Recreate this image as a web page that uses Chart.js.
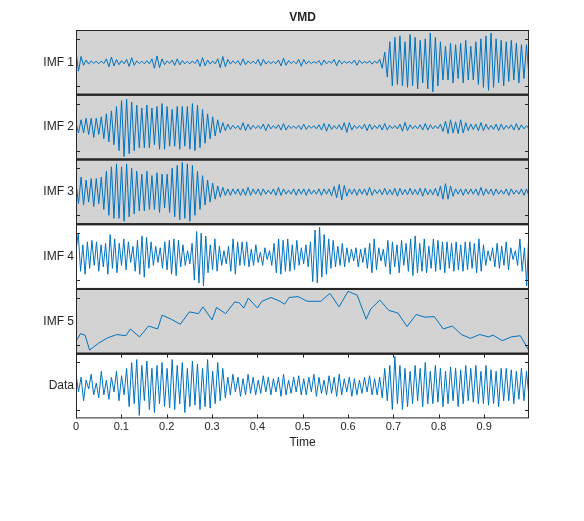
<!DOCTYPE html>
<html><head><meta charset="utf-8">
<script src="https://cdn.jsdelivr.net/npm/chart.js@4"></script>
<style>html,body{margin:0;padding:0;background:#fff}#w{width:584px;height:521px}</style>
</head><body><div id="w"><canvas id="c"></canvas></div>
<script>
const panelLabels = ["IMF 1","IMF 2","IMF 3","IMF 4","IMF 5","Data"];
const xTicks = [0,0.1,0.2,0.3,0.4,0.5,0.6,0.7,0.8,0.9];
const imf1 = [
0.35,-0.3,0.2,-0.1,0.08,-0.06,0.05,-0.04,0.04,-0.05,
0.05,-0.04,0.12,-0.15,0.18,-0.12,0.1,-0.08,0.06,-0.05,
0.1,-0.14,0.16,-0.1,0.05,-0.04,0.04,-0.05,0.06,-0.05,
0.12,-0.2,0.22,-0.18,0.12,-0.08,0.05,-0.04,0.08,-0.1,
0.12,-0.09,0.06,-0.05,0.04,-0.05,0.05,-0.04,0.1,-0.14,
0.16,-0.12,0.08,-0.06,0.05,-0.05,0.12,-0.18,0.2,-0.15,
0.1,-0.06,0.05,-0.04,0.06,-0.1,0.12,-0.08,0.05,-0.04,
0.04,-0.05,0.1,-0.12,0.1,-0.06,0.04,-0.04,0.03,-0.04,
0.08,-0.12,0.14,-0.1,0.06,-0.04,0.04,-0.05,0.1,-0.13,
0.1,-0.06,0.04,-0.04,0.03,-0.03,0.06,-0.1,0.08,-0.05,
0.04,-0.03,0.1,-0.12,0.08,-0.05,0.03,-0.03,0.03,-0.04,
0.08,-0.1,0.07,-0.04,0.03,-0.03,0.05,-0.06,0.04,-0.03,
0.1,-0.2,0.35,-0.5,
0.7,-0.8,0.85,-0.75,0.9,-0.8,0.7,-0.85,0.95,-0.8,
0.85,-0.9,0.75,-0.7,0.8,-0.9,1.0,-1.0,0.85,-0.8,
0.7,-0.6,0.55,-0.6,0.65,-0.7,0.6,-0.55,0.65,-0.7,
0.75,-0.6,0.55,-0.6,0.7,-0.75,0.8,-0.85,0.9,-0.95,
1.0,-0.85,0.8,-0.7,0.75,-0.8,0.7,-0.65,0.75,-0.6,
0.65,-0.7,0.6,-0.55,0.6,-0.5];
const imf2 = [
0.15,-0.2,0.25,-0.2,0.3,-0.25,0.3,-0.35,0.3,-0.25,
0.35,-0.4,0.45,-0.5,0.55,-0.6,0.7,-0.8,0.9,-1.0,
0.95,-0.9,0.85,-0.8,0.75,-0.7,0.65,-0.7,0.75,-0.7,
0.65,-0.6,0.7,-0.75,0.8,-0.75,0.7,-0.65,0.6,-0.65,
0.7,-0.75,0.7,-0.65,0.7,-0.75,0.8,-0.8,0.75,-0.7,
0.6,-0.55,0.45,-0.4,0.35,-0.3,0.25,-0.2,0.15,-0.12,
0.1,-0.08,0.06,-0.05,
0.05,-0.1,0.15,-0.12,0.1,-0.08,0.06,-0.05,0.05,-0.06,
0.1,-0.12,0.1,-0.06,0.05,-0.05,0.08,-0.1,0.12,-0.1,
0.06,-0.05,0.04,-0.05,0.06,-0.08,0.1,-0.08,0.05,-0.04,
0.05,-0.06,0.08,-0.1,0.12,-0.14,0.1,-0.08,0.05,-0.06,
0.08,-0.1,0.15,-0.18,0.15,-0.1,0.06,-0.05,0.05,-0.06,
0.1,-0.12,0.1,-0.08,0.06,-0.05,0.08,-0.1,0.12,-0.1,
0.06,-0.05,0.05,-0.06,0.1,-0.14,0.16,-0.12,0.08,-0.06,
0.05,-0.06,0.08,-0.1,0.12,-0.1,0.08,-0.06,0.05,-0.05,
0.1,-0.15,0.2,-0.22,0.25,-0.2,0.18,-0.22,0.25,-0.2,
0.15,-0.12,0.1,-0.08,0.1,-0.12,0.15,-0.12,0.1,-0.08,
0.06,-0.08,0.1,-0.12,0.1,-0.08,0.06,-0.05,0.08,-0.1,
0.12,-0.1,0.08,-0.06,0.05,-0.06];
const imf3 = [
0.3,-0.4,0.5,-0.45,0.4,-0.35,0.45,-0.5,0.45,-0.4,
0.5,-0.6,0.7,-0.8,0.85,-0.9,0.95,-0.9,0.85,-1.0,
0.95,-0.85,0.8,-0.75,0.7,-0.65,0.6,-0.65,0.7,-0.6,
0.55,-0.6,0.65,-0.7,0.6,-0.55,0.6,-0.7,0.8,-0.85,
0.9,-0.95,1.0,-0.9,0.95,-1.0,0.9,-0.8,0.7,-0.6,
0.55,-0.45,0.4,-0.35,0.3,-0.25,0.2,-0.18,0.15,-0.12,
0.1,-0.12,0.1,-0.08,0.1,-0.12,0.1,
-0.12,0.15,-0.12,0.1,-0.08,0.1,-0.12,0.1,-0.08,0.06,
-0.08,0.1,-0.12,0.15,-0.12,0.1,-0.08,0.06,-0.08,0.1,
-0.12,0.1,-0.08,0.1,-0.12,0.1,-0.08,0.06,-0.08,0.1,
-0.12,0.1,-0.08,0.1,-0.14,0.18,-0.2,0.25,-0.28,0.22,
-0.15,0.1,-0.08,0.1,-0.12,0.1,-0.08,0.1,-0.12,0.15,
-0.12,0.08,-0.06,0.08,-0.1,0.12,-0.1,0.08,-0.1,0.12,
-0.15,0.12,-0.1,0.08,-0.1,0.12,-0.1,0.08,-0.1,0.12,
-0.15,0.12,-0.1,0.08,-0.1,0.12,-0.15,0.2,-0.25,0.28,
-0.25,0.2,-0.15,0.1,-0.08,0.1,-0.12,0.1,-0.08,0.1,
-0.08,0.1,-0.12,0.15,-0.12,0.1,-0.08,0.1,-0.12,0.1,
-0.08,0.06,-0.08,0.1,-0.12,0.1,-0.08,0.06,-0.08,0.1,
-0.12,0.1,-0.15];
const imf4 = [
0.2,0.8,-0.5,0.4,-0.6,0.5,-0.4,0.55,-0.3,0.5,
-0.5,0.4,-0.35,0.45,-0.6,0.75,-0.4,0.6,-0.55,0.45,
-0.3,0.6,-0.45,0.5,-0.2,0.35,-0.5,0.55,-0.6,0.7,
-0.7,0.65,-0.4,0.5,-0.3,0.35,-0.2,0.3,-0.4,0.5,
-0.45,0.55,-0.6,0.6,-0.65,0.55,-0.35,0.4,-0.3,0.2,
-0.25,0.45,-0.8,0.85,-0.9,0.8,-1.0,0.7,-0.55,0.4,
-0.45,0.6,-0.5,0.35,-0.3,0.2,-0.25,0.35,-0.5,0.6,
-0.6,0.5,-0.3,0.5,-0.3,0.5,-0.35,0.25,-0.3,0.4,
-0.2,0.15,-0.3,0.3,-0.1,0.2,-0.3,0.45,-0.55,0.6,
-0.6,0.55,-0.5,0.6,-0.5,0.4,-0.45,0.55,-0.3,0.3,
-0.25,0.4,-0.35,0.5,-0.85,0.9,-0.9,1.0,-0.7,0.75,
-0.6,0.6,-0.4,0.55,-0.35,0.35,-0.3,0.45,-0.35,0.3,
-0.2,0.25,-0.15,0.3,-0.35,0.25,-0.2,0.3,-0.4,0.45,
-0.55,0.6,-0.45,0.3,-0.15,0.25,-0.35,0.55,-0.6,0.5,
-0.35,0.4,-0.55,0.55,-0.3,0.45,-0.5,0.6,-0.65,0.7,
-0.55,0.45,-0.5,0.6,-0.55,0.35,-0.4,0.6,-0.5,0.55,
-0.45,0.5,-0.55,0.5,-0.4,0.45,-0.5,0.5,-0.45,0.4,
-0.5,0.5,-0.45,0.5,-0.4,0.45,-0.55,0.6,-0.5,0.4,
-0.3,0.2,-0.15,0.3,-0.35,0.45,-0.4,0.35,-0.3,0.5,
-0.45,0.3,-0.1,0.2,-0.3,0.6,-0.5,0.3,-1.0,1.0];
const imf5x = [0,0.01,0.02,0.03,0.05,0.07,0.09,0.11,0.12,0.14,0.16,0.18,0.19,0.21,0.23,0.25,0.27,0.28,0.30,0.31,0.33,0.35,0.36,0.37,0.38,0.40,0.41,0.43,0.45,0.46,0.47,0.49,0.51,0.54,0.56,0.58,0.60,0.62,0.64,0.65,0.67,0.69,0.71,0.73,0.75,0.77,0.79,0.81,0.83,0.85,0.87,0.89,0.91,0.92,0.94,0.96,0.98,0.999];
const imf5 = [-0.68,-0.42,-0.47,-0.98,-0.74,-0.56,-0.45,-0.49,-0.26,-0.53,-0.16,-0.26,0.21,0.07,-0.1,0.32,0.26,0.49,0.05,0.47,0.26,0.66,0.63,0.45,0.79,0.45,0.68,0.81,0.68,0.58,0.81,0.84,0.68,0.68,0.95,0.49,1.02,0.89,0.07,0.42,0.72,0.37,0.28,-0.18,0.23,0.14,0.16,-0.26,-0.16,-0.45,-0.58,-0.45,-0.53,-0.47,-0.66,-0.53,-0.49,-1.0];
const dataSig = [
0.4,-0.2,0.3,-0.5,0.2,-0.1,0.4,-0.3,0.1,-0.4,
0.5,-0.3,0.2,-0.45,0.3,-0.2,0.5,-0.5,0.35,-0.3,
0.6,-0.7,0.8,-0.6,0.9,-1.0,0.7,-0.5,0.85,-0.8,
0.6,-0.9,0.7,-0.6,0.8,-0.7,0.6,-0.75,0.9,-0.8,
0.7,-0.6,0.8,-0.9,0.6,-0.7,0.85,-0.65,0.75,-0.8,
0.6,-0.7,0.9,-0.75,0.5,-0.6,0.8,-0.5,0.6,-0.4,
0.3,-0.3,0.4,-0.2,0.3,-0.35,0.25,-0.3,0.4,-0.25,
0.3,-0.3,0.2,-0.25,0.35,-0.2,0.3,-0.3,0.25,-0.2,
0.3,-0.35,0.4,-0.3,0.2,-0.25,0.3,-0.2,0.35,-0.3,
0.25,-0.3,0.3,-0.2,0.4,-0.35,0.3,-0.25,0.2,-0.3,
0.35,-0.25,0.3,-0.35,0.4,-0.3,0.25,-0.2,0.3,-0.35,
0.25,-0.3,0.2,-0.25,0.3,-0.2,0.35,-0.3,0.25,-0.3,
0.3,-0.4,0.6,-0.5,0.7,-0.8,1.0,-0.6,0.7,-0.8,
0.6,-0.7,0.5,-0.6,0.7,-0.5,0.6,-0.7,0.8,-0.6,
0.5,-0.6,0.7,-0.55,0.6,-0.7,0.5,-0.6,0.65,-0.5,
0.6,-0.7,0.55,-0.6,0.7,-0.5,0.6,-0.55,0.7,-0.6,
0.5,-0.6,0.7,-0.65,0.55,-0.6,0.5,-0.7,0.6,-0.5,
0.6,-0.5,0.55,-0.6,0.5,-0.45,0.6,-0.5,0.5,-0.4];

const series = [imf1, imf2, imf3, imf4, null, dataSig];
const gray = [true,true,true,false,true,false];
const toPts = (arr) => arr.map((v,i)=>({x: i/(arr.length-1)*0.999, y: v}));
const ids = ['y1','y2','y3','y4','y5','y6'];
const datasets = ids.map((id,k)=>({
  data: k===4 ? imf5.map((v,i)=>({x: imf5x[i], y: v})) : toPts(series[k]),
  yAxisID: id, borderColor:'#0072BD', borderWidth:1, pointRadius:0, tension:0, fill:false
}));
const scales = {
  x: {type:'linear', min:0, max:0.999, position:'bottom',
      afterBuildTicks: s => { s.ticks = xTicks.map(v=>({value:v})); },
      ticks:{color:'#262626', font:{family:'Liberation Sans', size:11}, padding:2, callback:v=>String(v)},
      grid:{display:false, drawTicks:false}, border:{display:false},
      title:{display:true, text:'Time', color:'#262626', font:{family:'Liberation Sans', size:12}, padding:{top:0}}}
};
ids.slice().reverse().forEach(id=>{
  scales[id] = {type:'linear', position:'left', stack:'v', stackWeight:1, min:-1.1, max:1.1,
    ticks:{display:false}, grid:{display:false, drawTicks:false}, border:{display:false}};
});
const deco = {
  id:'deco',
  beforeDatasetsDraw(chart){
    const ctx=chart.ctx, a=chart.chartArea;
    ids.forEach((id,k)=>{ const s=chart.scales[id];
      ctx.fillStyle = gray[k] ? '#d3d3d3' : '#ffffff';
      ctx.fillRect(a.left, s.top, a.right-a.left, s.bottom-s.top);
    });
  },
  afterDatasetsDraw(chart){
    const ctx=chart.ctx, a=chart.chartArea, xs=chart.scales.x;
    ctx.save();
    ctx.strokeStyle='#262626'; ctx.lineWidth=1;
    ids.forEach((id,k)=>{ const s=chart.scales[id];
      ctx.strokeRect(a.left+0.5, s.top+0.5, a.right-a.left-1, s.bottom-s.top-1);
      [-0.8,0.8].forEach(v=>{ const y=Math.round(s.getPixelForValue(v))+0.5;
        ctx.beginPath(); ctx.moveTo(a.left,y); ctx.lineTo(a.left+4,y);
        ctx.moveTo(a.right,y); ctx.lineTo(a.right-4,y); ctx.stroke(); });
      if(k>0){ ctx.lineWidth=2; ctx.beginPath(); ctx.moveTo(a.left,s.top); ctx.lineTo(a.right,s.top); ctx.stroke(); ctx.lineWidth=1; }
      ctx.fillStyle='#262626'; ctx.font='12px "Liberation Sans"';
      ctx.textAlign='right'; ctx.textBaseline='middle';
      ctx.fillText(panelLabels[k], a.left-2, (s.top+s.bottom)/2);
    });
    const sd=chart.scales.y6;
    xTicks.forEach(v=>{ const x=Math.round(xs.getPixelForValue(v))+0.5;
      ctx.beginPath(); ctx.moveTo(x,sd.bottom); ctx.lineTo(x,sd.bottom-4);
      ctx.moveTo(x,sd.top); ctx.lineTo(x,sd.top+4); ctx.stroke(); });
    ctx.font='bold 12px "Liberation Sans"'; ctx.textAlign='center'; ctx.textBaseline='middle';
    ctx.fillText('VMD', (a.left+a.right)/2, 18);
    ctx.restore();
  }
};
new Chart(document.getElementById('c'), {
  type:'line', data:{datasets},
  options:{responsive:true, maintainAspectRatio:false, animation:false,
    layout:{padding:{left:76, right:55, top:30, bottom:67}},
    plugins:{legend:{display:false}, tooltip:{enabled:false}},
    scales},
  plugins:[deco]
});
</script></body></html>
